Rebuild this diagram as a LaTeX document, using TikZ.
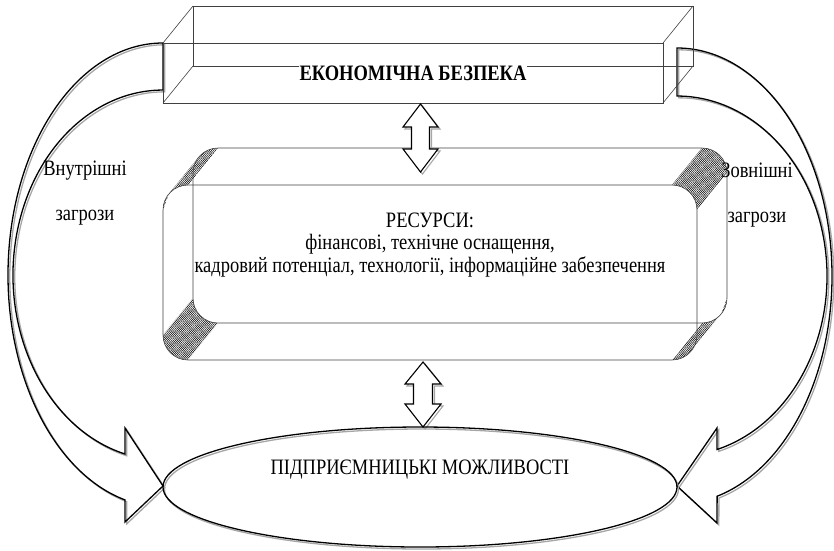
\documentclass[tikz,border=0pt]{standalone}
\usepackage{fontspec}
\setmainfont{Liberation Serif}[FakeStretch=0.84]
\usetikzlibrary{patterns.meta,calc}
\newcommand{\fs}{\fontsize{22}{22.5}\selectfont}
\begin{document}
\begin{tikzpicture}[x=1pt,y=-1pt,
  boxline/.style={draw=black!75, line width=0.6pt},
  hatch/.style={pattern={Lines[angle=51,distance=1.5pt,line width=0.55pt]}, pattern color=black},
  blk/.style={draw=black, line width=1.3pt, line join=miter},
  shd/.style={draw=black!35, line width=1.3pt, line join=miter},
  blkw/.style={draw=black, line width=1.1pt, fill=white, line join=miter},
  shdw/.style={draw=black!35, line width=1.1pt, line join=miter}
]
\useasboundingbox (0,0) rectangle (834,550);

% curved block arrows (threats)
\foreach \dx/\st in {1.8/shd,0/blk}{
  \draw[\st, shift={(\dx,\dx)}] (163,43)
    arc[start angle=270, end angle=104.19, x radius=155, y radius=232]
    -- (125,522) -- (163,486) -- (125,428) -- (125,454)
    arc[start angle=104.67, end angle=270, x radius=150, y radius=185] -- cycle;
  \draw[\st, shift={(\dx,\dx)}] (677,48)
    arc[start angle=270, end angle=435, x radius=155, y radius=228]
    -- (717,523) -- (677,486) -- (717,428) -- (717,449.5)
    arc[start angle=434.53, end angle=270, x radius=150, y radius=180] -- cycle;
}

% top 3D box
\draw[boxline] (163,43) rectangle (663,103);
\draw[boxline] (193,6) rectangle (693,66);
\draw[boxline] (163,43)--(193,6) (663,43)--(693,6) (163,103)--(193,66) (663,103)--(693,66);

% middle extruded rounded box: hatched corner surfaces
\fill[hatch] ($(188,210)+(219:25)$) arc[start angle=219,end angle=270,radius=25]
  -- ($(218,173)+(270:25)$) arc[start angle=270,end angle=219,radius=25] -- cycle;
\fill[hatch] ($(188,210)+(180:25)$) arc[start angle=180,end angle=219,radius=25] -- cycle;
\fill[hatch] ($(672,210)+(270:25)$) arc[start angle=270,end angle=360,radius=25]
  -- ($(702,173)+(0:25)$) arc[start angle=360,end angle=270,radius=25] -- cycle;
\fill[hatch] ($(672,335)+(39:25)$) arc[start angle=39,end angle=90,radius=25]
  -- ($(702,298)+(90:25)$) arc[start angle=90,end angle=39,radius=25] -- cycle;
\fill[hatch] ($(702,298)+(0:25)$) arc[start angle=0,end angle=39,radius=25] -- cycle;
\fill[hatch] ($(188,335)+(90:25)$) arc[start angle=90,end angle=180,radius=25]
  -- ($(218,298)+(180:25)$) arc[start angle=180,end angle=90,radius=25] -- cycle;
\draw[boxline, rounded corners=25pt] (193,148) rectangle (727,323);
\draw[boxline, rounded corners=25pt] (163,185) rectangle (697,360);

% double arrows
\foreach \dx/\st in {2/shdw,0/blkw}{
  \draw[\st, shift={(\dx,\dx)}] (420.5,104) -- (438,127) -- (429.5,127) -- (429.5,149)
    -- (438,149) -- (420.5,172) -- (403,149) -- (411.5,149) -- (411.5,127) -- (403,127) -- cycle;
  \draw[\st, shift={(\dx,\dx)}] (423,362) -- (441,384) -- (432.5,384) -- (432.5,404)
    -- (441,404) -- (423,427) -- (405,404) -- (413.5,404) -- (413.5,384) -- (405,384) -- cycle;
}

% ellipse
\draw[shd] (421.5,489) ellipse [x radius=257, y radius=60];
\draw[blk] (420,487) ellipse [x radius=257, y radius=60];

% texts
\node[font=\fs\bfseries, fill=white, inner sep=1pt, anchor=base] (econ) at (413,80) {ЕКОНОМІЧНА БЕЗПЕКА};
\node[font=\fs, align=center, inner sep=0pt] (res) at (430,245)
  {РЕСУРСИ:\\фінансові, технічне оснащення,\\кадровий потенціал, технології, інформаційне забезпечення};
\node[font=\fontsize{22}{45}\selectfont, align=center, inner sep=0pt] (int) at (85,193) {Внутрішні\\загрози};
\node[font=\fontsize{22}{45}\selectfont, align=center, inner sep=0pt] (ext) at (757,195) {Зовнішні\\загрози};
\node[font=\fs, anchor=base, inner sep=0pt] (opp) at (420,474) {ПІДПРИЄМНИЦЬКІ МОЖЛИВОСТІ};
\end{tikzpicture}
\end{document}
